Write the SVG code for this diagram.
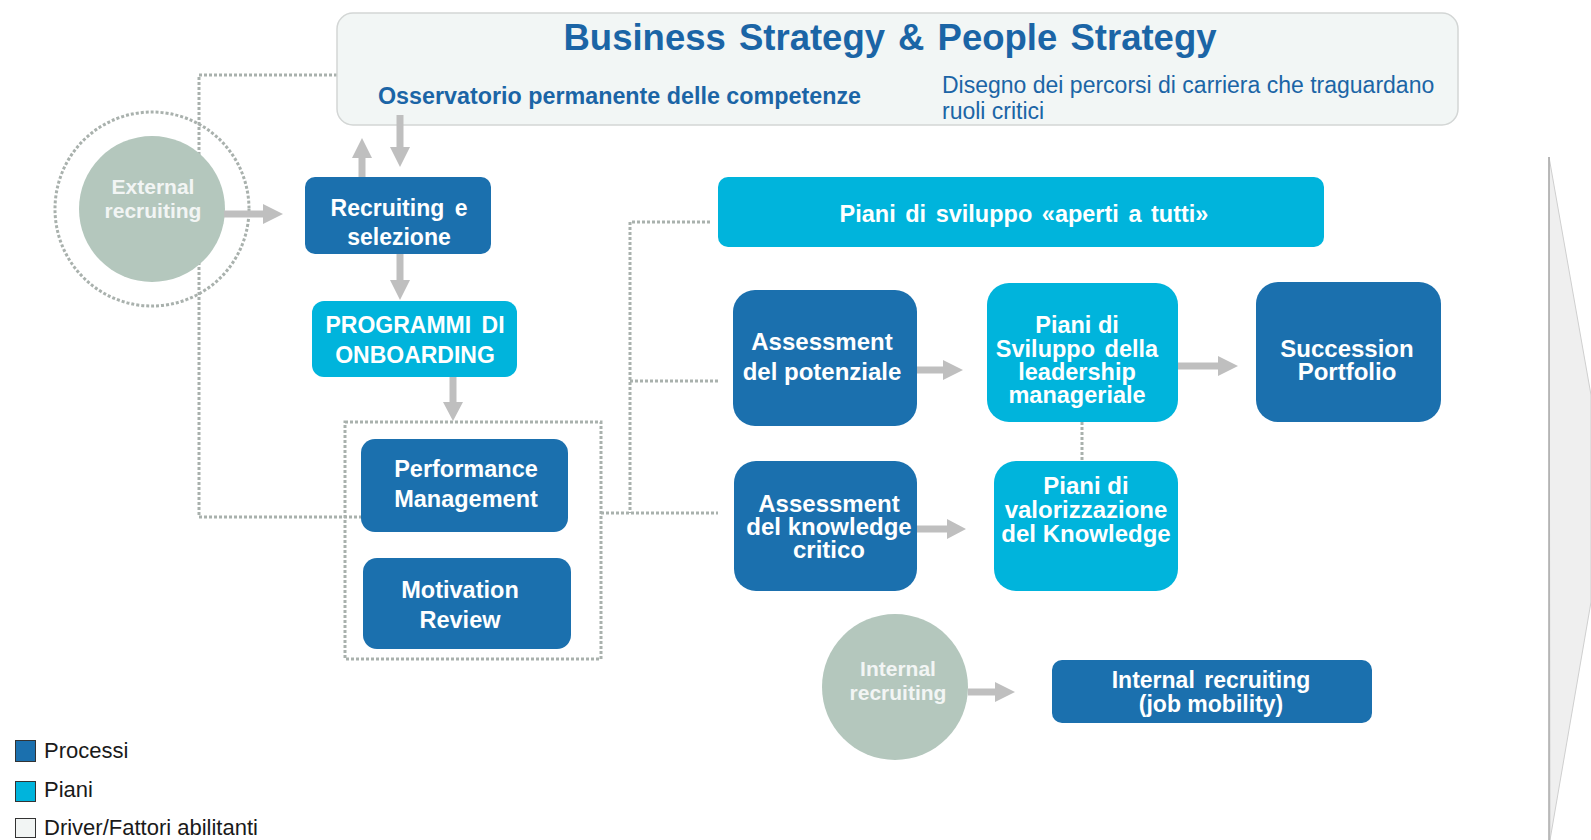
<svg xmlns="http://www.w3.org/2000/svg" width="1591" height="840" viewBox="0 0 1591 840">
  <style>
    .proc { fill: #1b70ae; }
    .plan { fill: #00b4dc; }
    .drv  { fill: #b4c7bd; }
    .lbl  { font-family: "Liberation Sans", Arial, sans-serif; font-weight: bold; fill: #ffffff; text-anchor: middle; }
    .drvlbl { font-family: "Liberation Sans", Arial, sans-serif; font-weight: bold; fill: #f2f5f4; text-anchor: middle; font-size: 21px; }
    .dot  { fill: none; stroke: #a9b1ad; stroke-width: 3; stroke-dasharray: 3 2; }
    .arr  { fill: #bfbfbf; }
    .leg  { font-family: "Liberation Sans", Arial, sans-serif; font-size: 22px; fill: #1a1a1a; }
    .hdr  { font-family: "Liberation Sans", Arial, sans-serif; fill: #1b65a6; }
  </style>

  <!-- background chevron on the right edge -->
  <g id="side-chevron">
    <polygon points="1549,157 1591,395 1591,602 1550,840" fill="#efefef" stroke="#cfcfcf" stroke-width="1"/>
    <line x1="1549" y1="157" x2="1549" y2="840" stroke="#aaaaaa" stroke-width="1.5"/>
  </g>

  <!-- dotted relation lines -->
  <g id="connectors-dotted">
    <polyline class="dot" points="337,75 199,75 199,517 361,517"/>
    <polyline class="dot" points="710,222 630,222 630,513"/>
    <line class="dot" x1="630" y1="381" x2="718" y2="381"/>
    <line class="dot" x1="601" y1="513" x2="718" y2="513"/>
    <line class="dot" x1="1082" y1="422" x2="1082" y2="461"/>
    <rect class="dot" x="345" y="422" width="256" height="237"/>
  </g>

  <!-- strategy header -->
  <g id="strategy-header">
    <rect x="337" y="13" width="1121" height="112" rx="16" fill="#f2f6f5" stroke="#d3d6d5" stroke-width="1.5"/>
    <text class="hdr" x="890" y="50" font-size="36.5" font-weight="bold" text-anchor="middle" word-spacing="3">Business Strategy &amp; People Strategy</text>
    <text class="hdr" x="378" y="104" font-size="23" font-weight="bold" textLength="483" lengthAdjust="spacingAndGlyphs">Osservatorio permanente delle competenze</text>
    <text class="hdr" x="942" y="93" font-size="23">Disegno dei percorsi di carriera che traguardano</text>
    <text class="hdr" x="942" y="119" font-size="23">ruoli critici</text>
  </g>

  <!-- external recruiting driver -->
  <g id="external-recruiting">
    <circle cx="152" cy="209" r="97" fill="#ffffff" class="dot"/>
    <circle cx="152" cy="209" r="73" class="drv"/>
    <text class="drvlbl" x="153" y="194">External</text>
    <text class="drvlbl" x="153" y="218">recruiting</text>
  </g>

  <g id="recruiting-selezione">
    <rect x="305" y="177" width="186" height="77" rx="10" class="proc"/>
    <text class="lbl" x="399" y="216" font-size="23" word-spacing="4">Recruiting e</text>
    <text class="lbl" x="399" y="245" font-size="23">selezione</text>
  </g>

  <g id="onboarding">
    <rect x="312" y="301" width="205" height="76" rx="12" class="plan"/>
    <text class="lbl" x="415" y="333" font-size="23" word-spacing="4">PROGRAMMI DI</text>
    <text class="lbl" x="415" y="363" font-size="23">ONBOARDING</text>
  </g>

  <g id="performance-management">
    <rect x="361" y="439" width="207" height="93" rx="14" class="proc"/>
    <text class="lbl" x="466" y="477" font-size="23.5">Performance</text>
    <text class="lbl" x="466" y="507" font-size="23.5">Management</text>
  </g>

  <g id="motivation-review">
    <rect x="363" y="558" width="208" height="91" rx="14" class="proc"/>
    <text class="lbl" x="460" y="598" font-size="23.5">Motivation</text>
    <text class="lbl" x="460" y="628" font-size="23.5">Review</text>
  </g>

  <g id="piani-aperti">
    <rect x="718" y="177" width="606" height="70" rx="10" class="plan"/>
    <text class="lbl" x="1024" y="222" font-size="23.5" word-spacing="3">Piani di sviluppo «aperti a tutti»</text>
  </g>

  <g id="assessment-potenziale">
    <rect x="733" y="290" width="184" height="136" rx="22" class="proc"/>
    <text class="lbl" x="822" y="350" font-size="24">Assessment</text>
    <text class="lbl" x="822" y="380" font-size="24">del potenziale</text>
  </g>

  <g id="piani-leadership">
    <rect x="987" y="283" width="191" height="139" rx="22" class="plan"/>
    <text class="lbl" x="1077" y="333" font-size="23.5">Piani di</text>
    <text class="lbl" x="1077" y="357" font-size="23.5" word-spacing="3">Sviluppo della</text>
    <text class="lbl" x="1077" y="380" font-size="23.5">leadership</text>
    <text class="lbl" x="1077" y="403" font-size="23.5">manageriale</text>
  </g>

  <g id="succession-portfolio">
    <rect x="1256" y="282" width="185" height="140" rx="22" class="proc"/>
    <text class="lbl" x="1347" y="357" font-size="24">Succession</text>
    <text class="lbl" x="1347" y="380" font-size="24">Portfolio</text>
  </g>

  <g id="assessment-knowledge">
    <rect x="734" y="461" width="183" height="130" rx="22" class="proc"/>
    <text class="lbl" x="829" y="512" font-size="24">Assessment</text>
    <text class="lbl" x="829" y="535" font-size="24">del knowledge</text>
    <text class="lbl" x="829" y="558" font-size="24">critico</text>
  </g>

  <g id="piani-knowledge">
    <rect x="994" y="461" width="184" height="130" rx="22" class="plan"/>
    <text class="lbl" x="1086" y="494" font-size="24">Piani di</text>
    <text class="lbl" x="1086" y="518" font-size="24">valorizzazione</text>
    <text class="lbl" x="1086" y="542" font-size="24">del Knowledge</text>
  </g>

  <g id="internal-recruiting">
    <circle cx="895" cy="687" r="73" class="drv"/>
    <text class="drvlbl" x="898" y="676">Internal</text>
    <text class="drvlbl" x="898" y="700">recruiting</text>
  </g>

  <g id="job-mobility">
    <rect x="1052" y="660" width="320" height="63" rx="10" class="proc"/>
    <text class="lbl" x="1211" y="688" font-size="23" word-spacing="3">Internal recruiting</text>
    <text class="lbl" x="1211" y="712" font-size="23">(job mobility)</text>
  </g>

  <!-- block arrows -->
  <g id="connectors-arrows">
    <!-- external recruiting -> recruiting e selezione -->
    <polygon class="arr" points="224,210.5 263,210.5 263,204 283,214 263,224 263,217.5 224,217.5"/>
    <!-- recruiting -> header -->
    <polygon class="arr" points="358.5,177 358.5,158 352,158 362,138 372,158 365.5,158 365.5,177"/>
    <!-- header -> recruiting -->
    <polygon class="arr" points="396.5,115 396.5,147 390,147 400,167 410,147 403.5,147 403.5,115"/>
    <!-- recruiting -> onboarding -->
    <polygon class="arr" points="396.5,254 396.5,280 390,280 400,300 410,280 403.5,280 403.5,254"/>
    <!-- onboarding -> performance group -->
    <polygon class="arr" points="449.5,377 449.5,402 443,402 453,421 463,402 456.5,402 456.5,377"/>
    <!-- assessment potenziale -> piani leadership -->
    <polygon class="arr" points="917,366.5 943,366.5 943,360 963,370 943,380 943,373.5 917,373.5"/>
    <!-- piani leadership -> succession -->
    <polygon class="arr" points="1178,362.5 1218,362.5 1218,356 1238,366 1218,376 1218,369.5 1178,369.5"/>
    <!-- assessment knowledge -> piani knowledge -->
    <polygon class="arr" points="917,525.5 947,525.5 947,519 966,529 947,539 947,532.5 917,532.5"/>
    <!-- internal recruiting -> job mobility -->
    <polygon class="arr" points="968,688.5 995,688.5 995,682 1015,692 995,702 995,695.5 968,695.5"/>
  </g>

  <!-- legend -->
  <g id="legend">
    <rect x="15.5" y="740.5" width="20" height="21" class="proc" stroke="#333333" stroke-width="1"/>
    <text class="leg" x="44" y="758">Processi</text>
    <rect x="15.5" y="781.5" width="20" height="20" class="plan" stroke="#333333" stroke-width="1"/>
    <text class="leg" x="44" y="797">Piani</text>
    <rect x="15.5" y="818.5" width="20" height="19" fill="#f2f5f4" stroke="#333333" stroke-width="1"/>
    <text class="leg" x="44" y="835">Driver/Fattori abilitanti</text>
  </g>
</svg>
